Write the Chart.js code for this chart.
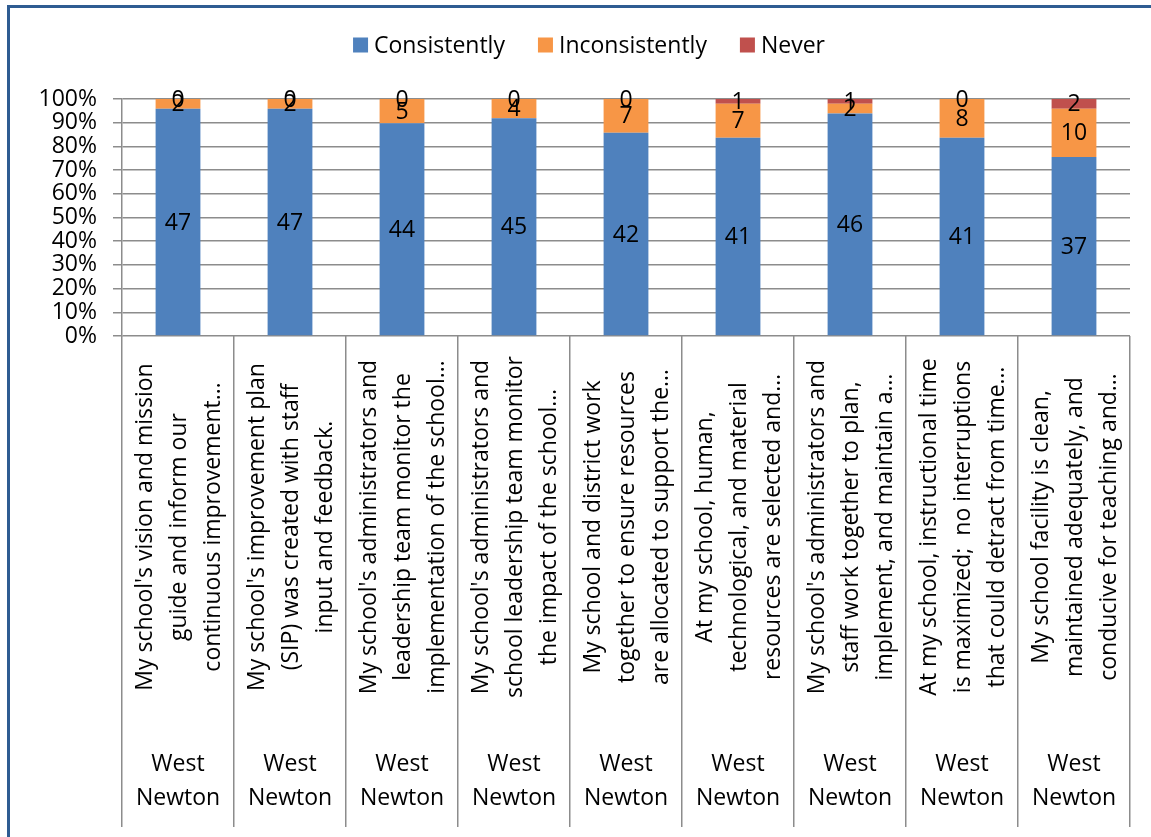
<!DOCTYPE html>
<html>
<head>
<meta charset="utf-8">
<script src="https://cdn.jsdelivr.net/npm/chart.js@4.4.1/dist/chart.umd.min.js"></script>
<style>
  html, body { margin: 0; padding: 0; background: #fff; }
  #wrap { width: 1151px; height: 837px; }
</style>
</head>
<body>
<div id="wrap"><canvas id="c" width="1151" height="837"></canvas></div>
<script>
// ---- data ----
const questionLabels = [
  ["My school's vision and mission", "guide and inform our", "continuous improvement\u2026"],
  ["My school's improvement plan", "(SIP) was created with staff", "input and feedback."],
  ["My school's administrators and", "leadership team monitor the", "implementation of the school\u2026"],
  ["My school's administrators and", "school leadership team monitor", "the impact of the school\u2026"],
  ["My school and district work", "together to ensure resources", "are allocated to support the\u2026"],
  ["At my school, human,", "technological, and material", "resources are selected and\u2026"],
  ["My school's administrators and", "staff work together to plan,", "implement, and maintain a\u2026"],
  ["At my school, instructional time", "is maximized;  no interruptions", "that could detract from time\u2026"],
  ["My school facility is clean,", "maintained adequately, and", "conducive for teaching and\u2026"]
];
const schoolLabels = ["West Newton","West Newton","West Newton","West Newton","West Newton","West Newton","West Newton","West Newton","West Newton"];
const consistently   = [47, 47, 44, 45, 42, 41, 46, 41, 37];
const inconsistently = [2, 2, 5, 4, 7, 7, 2, 8, 10];
const never          = [0, 0, 0, 0, 0, 1, 1, 0, 2];
const seriesNames = ["Consistently", "Inconsistently", "Never"];
const yTicks = [0, 10, 20, 30, 40, 50, 60, 70, 80, 90, 100];

// ---- helpers ----
const totals = consistently.map((v, i) => v + inconsistently[i] + never[i]);
const pct = arr => arr.map((v, i) => v / totals[i] * 100);
const FONT = "'Open Sans', sans-serif";
const FS = 23;

const rawSeries = [consistently, inconsistently, never];
const colors = ['#4F81BD', '#F79646', '#C0504D'];

const data = {
  labels: questionLabels.map((l, i) => i),
  datasets: rawSeries.map((s, k) => ({
    label: seriesNames[k],
    data: pct(s),
    raw: s,
    backgroundColor: colors[k],
    borderWidth: 0,
    categoryPercentage: 1,
    barPercentage: 0.4
  }))
};

const framePlugin = {
  id: 'frame',
  afterDraw(chart) {
    const ctx = chart.ctx;
    ctx.save();
    ctx.strokeStyle = '#2E5C92';
    ctx.lineWidth = 3;
    ctx.strokeRect(8.5, 6.5, 1200, 900);
    ctx.restore();
  }
};

const legendPlugin = {
  id: 'customLegend',
  afterDraw(chart) {
    const ctx = chart.ctx;
    ctx.save();
    ctx.font = FS + 'px ' + FONT;
    ctx.textBaseline = 'middle';
    ctx.textAlign = 'left';
    const box = 15, gapText = 6, gapItem = 33;
    const items = chart.data.datasets.map(d => ({ label: d.label, color: d.backgroundColor, w: ctx.measureText(d.label).width }));
    let total = 0;
    items.forEach((it, i) => { total += box + gapText + it.w + (i < items.length - 1 ? gapItem : 0); });
    let x = 589 - total / 2;
    const cy = 45;
    items.forEach(it => {
      ctx.fillStyle = it.color;
      ctx.fillRect(x, cy - box / 2, box, box);
      ctx.fillStyle = '#000';
      ctx.fillText(it.label, x + box + gapText, cy + 1);
      x += box + gapText + it.w + gapItem;
    });
    ctx.restore();
  }
};

const valueLabelPlugin = {
  id: 'valueLabels',
  afterDatasetsDraw(chart) {
    const ctx = chart.ctx;
    ctx.save();
    ctx.font = FS + 'px ' + FONT;
    ctx.fillStyle = '#000';
    ctx.textAlign = 'center';
    ctx.textBaseline = 'middle';
    chart.data.datasets.forEach((ds, k) => {
      const meta = chart.getDatasetMeta(k);
      meta.data.forEach((el, i) => {
        const y = (el.y + el.base) / 2;
        ctx.fillText(String(ds.raw[i]), el.x, y + 1);
      });
    });
    ctx.restore();
  }
};

const axisLabelPlugin = {
  id: 'axisLabels',
  afterDraw(chart) {
    const ctx = chart.ctx;
    const xs = chart.scales.x;
    ctx.save();
    ctx.font = FS + 'px ' + FONT;
    ctx.fillStyle = '#000';
    ctx.textAlign = 'center';
    ctx.textBaseline = 'middle';
    const lh = 34;
    questionLabels.forEach((lines, i) => {
      const cx = xs.getPixelForValue(i);
      const n = lines.length;
      lines.forEach((line, j) => {
        const off = (j - (n - 1) / 2) * lh;
        ctx.save();
        ctx.translate(cx + off + 1, 527);
        ctx.rotate(-Math.PI / 2);
        ctx.fillText(line, 0, 0);
        ctx.restore();
      });
      const parts = schoolLabels[i].split(' ');
      parts.forEach((p, j) => {
        ctx.fillText(p, cx, 764 + j * lh);
      });
    });
    ctx.restore();
  }
};

new Chart(document.getElementById('c'), {
  type: 'bar',
  data,
  options: {
    responsive: false,
    devicePixelRatio: 1,
    animation: false,
    layout: { padding: { top: 99, left: 0, right: 21, bottom: 0 } },
    plugins: {
      legend: { display: false },
      tooltip: { enabled: false }
    },
    scales: {
      x: {
        stacked: true,
        offset: true,
        grid: {
          offset: true,
          drawOnChartArea: false,
          drawTicks: true,
          tickLength: 491,
          color: '#8c8c8c',
          lineWidth: 1.5
        },
        border: { display: false },
        ticks: { display: false },
        afterFit(scale) { scale.height = 501; }
      },
      y: {
        stacked: true,
        min: 0,
        max: 100,
        afterBuildTicks(scale) { scale.ticks = yTicks.map(v => ({ value: v })); },
        ticks: {
          autoSkip: false,
          callback: v => v + '%',
          font: { family: FONT, size: FS },
          color: '#000',
          padding: 16
        },
        grid: { color: '#8c8c8c', lineWidth: 1.5, tickLength: 9 },
        border: { color: '#8c8c8c', width: 1.5 },
        afterFit(scale) { scale.width = 122; }
      }
    }
  },
  plugins: [valueLabelPlugin, axisLabelPlugin, legendPlugin, framePlugin]
});
</script>
</body>
</html>
